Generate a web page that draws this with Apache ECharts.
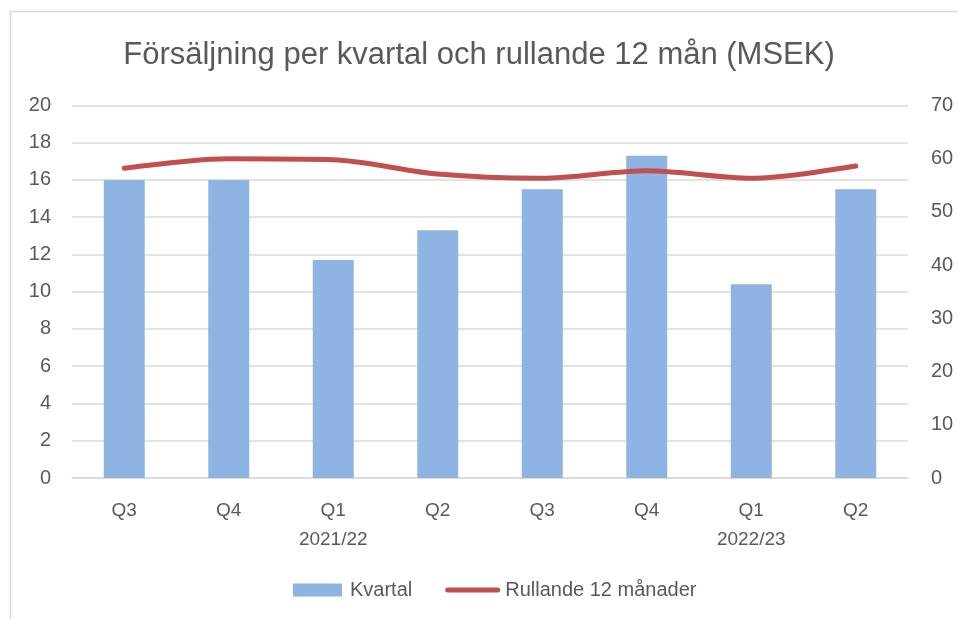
<!DOCTYPE html>
<html><head><meta charset="utf-8">
<script src="https://cdn.jsdelivr.net/npm/echarts@6/dist/echarts.min.js"></script>
<style>html,body{margin:0;padding:0;background:#fff}#c{width:958px;height:619px}</style>
</head><body><div id="c"></div>
<script>
const categories = ['Q3','Q4','Q1\n2021/22','Q2','Q3','Q4','Q1\n2022/23','Q2'];
const kvartal = [16.0, 16.0, 11.7, 13.3, 15.5, 17.3, 10.4, 15.5];
const rullande = [58.2, 60.0, 59.8, 57.1, 56.3, 57.7, 56.3, 58.6];
const leftTicks = [0, 20, 2];
const rightTicks = [0, 70, 10];

const chart = echarts.init(document.getElementById('c'));
const txt = '#595959';
const font = 'Liberation Sans';
chart.setOption({
  animation: false,
  textStyle: {fontFamily: font},
  title: {text: 'Försäljning per kvartal och rullande 12 mån (MSEK)', left: 'center', top: 35,
    textStyle: {fontSize: 31, fontWeight: 'normal', color: txt, fontFamily: font}},
  graphic: [{type: 'rect', shape: {x: 10.5, y: 11.5, width: 960, height: 620}, style: {fill: 'none', stroke: '#d9d9d9', lineWidth: 1.5}, silent: true}],
  grid: {left: 72, right: 50, top: 105.4, bottom: 141, containLabel: false},
  legend: {top: 575, left: 288, itemGap: 33, itemWidth: 55, itemHeight: 13,
    textStyle: {fontSize: 20, color: txt},
    data: [
      {name: 'Kvartal', icon: 'path://M0,0H49V13H0Z'},
      {name: 'Rullande 12 månader', icon: 'path://M2.5,0H52.5A2.5,2.5,0,0,1,52.5,5H2.5A2.5,2.5,0,0,1,2.5,0Z'}
    ]},
  xAxis: {type: 'category', data: categories,
    axisLine: {lineStyle: {color: '#d9d9d9', width: 1.5}}, axisTick: {show: false},
    axisLabel: {color: txt, fontSize: 19, margin: 18, lineHeight: 29}},
  yAxis: [
    {type: 'value', min: leftTicks[0], max: leftTicks[1], interval: leftTicks[2],
     axisLabel: {color: txt, fontSize: 20, margin: 21}, splitLine: {lineStyle: {color: '#d9d9d9', width: 1.5}},
     axisLine: {show: false}, axisTick: {show: false}},
    {type: 'value', min: rightTicks[0], max: rightTicks[1], interval: rightTicks[2],
     axisLabel: {color: txt, fontSize: 20, margin: 23}, splitLine: {show: false},
     axisLine: {show: false}, axisTick: {show: false}}
  ],
  series: [
    {name: 'Kvartal', type: 'bar', data: kvartal, barWidth: 41, itemStyle: {color: '#8eb4e3'}, yAxisIndex: 0},
    {name: 'Rullande 12 månader', type: 'line', data: rullande, yAxisIndex: 1, smooth: 0.3,
     symbol: 'none', lineStyle: {color: '#c0504d', width: 5, cap: 'round'}, itemStyle: {color: '#c0504d'}}
  ]
});
</script></body></html>
